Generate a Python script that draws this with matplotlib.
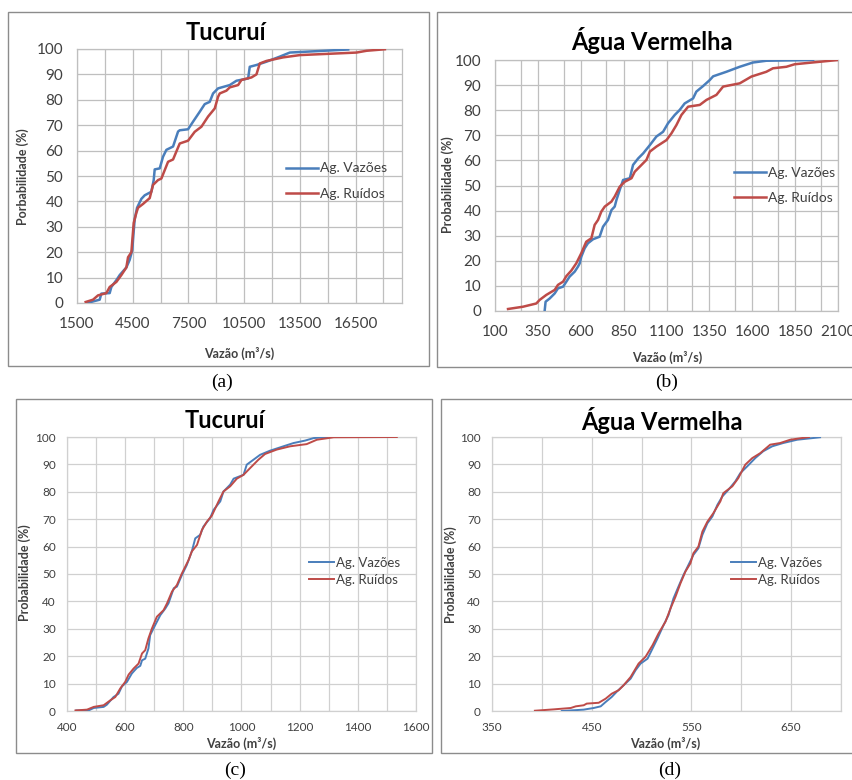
import matplotlib
matplotlib.use("Agg")
import matplotlib.pyplot as plt
from matplotlib.patches import Rectangle
from matplotlib.ticker import MultipleLocator, FixedLocator

# ---------------- data ----------------
a_vaz_x = [2039, 2721, 2811, 3260, 3350, 3620, 3800, 4158, 4338, 4480, 4517, 4607, 4733, 4966, 5146, 5505, 5630, 5684,
           5954, 6133, 6313, 6672, 6942, 7031, 7480, 7750, 8109, 8378, 8648, 8827, 9097, 9726, 10085, 10714, 10803,
           11163, 11702, 12420, 12959, 16103]
a_vaz_y = [0, 1.3, 3.7, 3.9, 6.3, 9, 11, 14, 17, 21, 25, 33, 37.5, 41, 42.4, 43.8, 48.4, 52.6,
           53, 57.6, 60.3, 61.6, 67.5, 68, 68.4, 71.4, 75.3, 78.3, 79.2, 82.5, 84.5, 85.8, 87.5, 88.4, 93,
           93.7, 95, 97, 98.6, 99.8]
a_rui_x = [1967, 2362, 2631, 3081, 3260, 3620, 3889, 4158, 4248, 4428, 4482, 4553, 4697, 4787, 5056, 5415, 5595, 5864,
           6044, 6223, 6403, 6672, 7031, 7480, 7839, 8199, 8558, 8917, 9097, 9186, 9546, 9726, 10175, 10354, 10893,
           11163, 11342, 11702, 12600, 13498, 16552, 17091, 18079]
a_rui_y = [0.4, 1.3, 3, 3.9, 6.3, 8.3, 11, 14, 18, 20, 25, 31.5, 35.5, 37.5, 39, 41.3, 46.5, 48.4,
           49, 52.3, 55.6, 56.5, 62.8, 63.9, 67.4, 69.4, 73.4, 76.6, 81.2, 82.5, 83.6, 84.9, 85.8, 87.8, 88.8,
           90, 94.3, 95.3, 96.7, 97.6, 98.6, 99.3, 99.9]

b_vaz_x = [390, 395, 419, 448, 467, 497, 516, 535, 565, 584, 594, 603, 623, 642, 672, 710, 730, 759, 779, 798, 808,
           827, 847, 886, 905, 935, 964, 1003, 1041, 1080, 1109, 1148, 1177, 1206, 1255, 1274, 1313, 1352, 1372,
           1449, 1527, 1604, 1682, 1955]
b_vaz_y = [0.4, 3.7, 5, 7, 9, 9.7, 11.7, 13.7, 15.7, 17.7, 19, 21.6, 25, 27, 28.6, 29.6, 33.6, 36.3, 40.2, 41.6, 44.2,
           48.2, 52.2, 52.9, 58.2, 60.8, 62.8, 66.1, 69.5, 71.4, 74.8, 78.1, 80.1, 82.7, 84.7, 87.4, 89.6, 92, 93.5,
           95.3, 97.3, 99, 99.7, 100]
b_rui_x = [176, 263, 341, 360, 399, 448, 467, 497, 516, 545, 574, 603, 632, 662, 681, 701, 720, 740, 779, 798, 827,
           857, 896, 915, 944, 983, 1003, 1041, 1100, 1129, 1158, 1187, 1226, 1294, 1333, 1391, 1430, 1527, 1595,
           1682, 1721, 1799, 1847, 1935, 2100]
b_rui_y = [0.8, 1.7, 3, 4.4, 6.4, 8.4, 10.4, 11.7, 13.9, 16.1, 19, 23, 27.6, 29, 34.3, 36.3, 39.6, 41.6, 43.6, 45.6,
           49.5, 51.5, 52.9, 55.5, 57.5, 60.2, 63.5, 65.5, 68.1, 70.8, 74.1, 78.1, 81.4, 82.1, 84.1, 86.1, 89.4,
           90.7, 93.4, 95.3, 96.7, 97.3, 98.3, 98.9, 100]

c_vaz_x = [432, 474, 492, 526, 537, 560, 577, 589, 606, 623, 640, 652, 658, 669, 680, 686, 703, 721, 738, 749, 767,
           778, 795, 812, 829, 841, 858, 869, 892, 904, 927, 938, 961, 973, 1007, 1018, 1041, 1064, 1098, 1144,
           1179, 1219, 1248, 1294]
c_vaz_y = [0.2, 0.2, 1.1, 1.5, 2.3, 5.1, 6.3, 9, 10.6, 13.7, 15.7, 16.5, 18.5, 19.1, 22.8, 27.7, 31.3, 35, 37.4, 39.3,
           44.8, 45.4, 49.6, 53.3, 58.2, 63, 64.3, 67.3, 70.4, 73.4, 76.5, 80.1, 82.6, 84.8, 86.2, 89.9, 91.7,
           93.5, 95, 96.6, 97.8, 98.7, 99.6, 100]
c_rui_x = [429, 469, 492, 526, 549, 566, 583, 600, 612, 629, 646, 658, 669, 680, 692, 709, 732, 744, 761, 778, 795,
           818, 829, 847, 864, 881, 898, 921, 938, 961, 984, 1007, 1030, 1058, 1081, 1121, 1167, 1224, 1259, 1317,
           1534]
c_rui_y = [0.2, 0.5, 1.5, 2.1, 3.9, 5.1, 8.2, 10.6, 13.3, 15.5, 17.3, 21, 22.2, 26.5, 30.1, 34.4, 36.8, 39.3, 43.6,
           46, 50.2, 55.1, 58.2, 60.6, 66.1, 69.1, 71.3, 76.5, 80.1, 82, 84.8, 86.2, 88.7, 91.7, 93.8, 95.4, 96.6,
           97.4, 99, 99.9, 100]

d_vaz_x = [420, 442, 452, 459, 464, 470, 475, 482, 489, 494, 499, 506, 511, 516, 522, 527, 532, 537, 542, 547, 552,
           557, 561, 566, 571, 576, 581, 587, 594, 599, 606, 614, 622, 631, 642, 656, 679]
d_vaz_y = [0, 0.5, 1.1, 1.7, 3.3, 5.1, 7, 9.4, 11.8, 14.9, 17.3, 19.1, 22.8, 26.5, 31.3, 35, 41.1, 45.4, 49.6, 53.3,
           57, 59.4, 64.3, 68.5, 71, 75.2, 78.3, 80.7, 83.8, 86.8, 89.3, 92.3, 94.8, 96.6, 97.8, 99, 99.9]
d_rui_x = [393, 412, 429, 434, 442, 445, 457, 464, 470, 477, 482, 489, 497, 504, 511, 517, 524, 529, 534, 539, 544,
           549, 552, 557, 561, 566, 572, 579, 582, 591, 597, 604, 611, 619, 629, 639, 649, 668]
d_rui_y = [0.1, 0.6, 1.1, 1.7, 2.1, 2.7, 3, 4.5, 6.3, 7.6, 9.4, 12.4, 17.3, 19.8, 24, 28.3, 32.6, 37.4, 41.7, 46.6,
           50.9, 53.9, 57.6, 60, 65.5, 69.1, 72.2, 76.5, 79.5, 82, 85, 89.9, 92.3, 94.1, 97.2, 97.8, 99, 100]

series_labels = ["Ag. Vazões", "Ag. Ruídos"]
titles = ["Tucuruí", "Água Vermelha", "Tucuruí", "Água Vermelha"]
ylabels = ["Porbabilidade (%)", "Probabilidade (%)", "Probabilidade (%)", "Probabilidade (%)"]
xlabel = "Vazão (m³/s)"
captions = ["(a)", "(b)", "(c)", "(d)"]
a_ticks = [1500, 4500, 7500, 10500, 13500, 16500]
b_ticks = [100, 350, 600, 850, 1100, 1350, 1600, 1850, 2100]
c_ticks = [400, 600, 800, 1000, 1200, 1400, 1600]
d_ticks = [350, 450, 550, 650]

# ---------------- layout ----------------
W, H = 852, 780
fig = plt.figure(figsize=(W / 100, H / 100), dpi=100)
SANS = ["Lato", "DejaVu Sans"]
BLUE = "#4A7EBB"
RED = "#BE4B48"
TXT = "#404040"


def fr(x0, y0, x1, y1):
    return [x0 / W, 1 - y1 / H, (x1 - x0) / W, (y1 - y0) / H]


def box(x0, y0, x1, y1):
    fig.patches.append(Rectangle((x0 / W, 1 - y1 / H), (x1 - x0) / W, (y1 - y0) / H,
                                 transform=fig.transFigure, fill=False, edgecolor="#8C8C8C", lw=1.0))


panels = [
    dict(pos=(77, 49, 402, 303), box=(8, 12, 429, 366), data=(a_vaz_x, a_vaz_y, a_rui_x, a_rui_y),
         xlim=(1500, 19000), major=FixedLocator(a_ticks), minor=MultipleLocator(1500),
         tfs=11, lw=1.8, grid="#BFBFBF", title_xy=(226, 32), tsz=17,
         ylab_xy=(23, 177), xlab_xy=(239, 353), lfs=9, cap_xy=(222, 382), leg=(0.605, 0.48), legfs=10,
         lspace=0.95, hl=2.3),
    dict(pos=(495, 60, 838, 311), box=(437, 12, 853, 367), data=(b_vaz_x, b_vaz_y, b_rui_x, b_rui_y),
         xlim=(100, 2100), major=FixedLocator(b_ticks), minor=MultipleLocator(250),
         tfs=11, lw=1.8, grid="#BFBFBF", title_xy=(652, 40), tsz=17,
         ylab_xy=(448, 185), xlab_xy=(667, 357), lfs=9, cap_xy=(667, 382), leg=(0.66, 0.5), legfs=10,
         lspace=0.95, hl=2.3),
    dict(pos=(67, 437, 416, 711), box=(16, 399, 432, 753), data=(c_vaz_x, c_vaz_y, c_rui_x, c_rui_y),
         xlim=(400, 1600), major=FixedLocator(c_ticks), minor=MultipleLocator(100),
         tfs=8.5, lw=1.4, grid="#D0D0D0", title_xy=(225, 420), tsz=17,
         ylab_xy=(25, 573), xlab_xy=(241, 743), lfs=9, cap_xy=(235, 770), leg=(0.66, 0.51), legfs=9.5,
         lspace=0.35, hl=1.9),
    dict(pos=(492, 437, 841, 711), box=(441, 399, 853, 753), data=(d_vaz_x, d_vaz_y, d_rui_x, d_rui_y),
         xlim=(350, 700), major=FixedLocator(d_ticks), minor=MultipleLocator(50),
         tfs=8.5, lw=1.4, grid="#D0D0D0", title_xy=(662, 420), tsz=17,
         ylab_xy=(451, 575), xlab_xy=(665, 743), lfs=9, cap_xy=(670, 770), leg=(0.65, 0.51), legfs=9.5,
         lspace=0.35, hl=1.9),
]

for i, p in enumerate(panels):
    box(*p["box"])
    ax = fig.add_axes(fr(*p["pos"]))
    vx, vy, rx, ry = p["data"]
    ax.plot(vx, vy, color=BLUE, lw=p["lw"], label=series_labels[0], zorder=3)
    ax.plot(rx, ry, color=RED, lw=p["lw"], label=series_labels[1], zorder=3)
    ax.set_xlim(*p["xlim"])
    ax.set_ylim(0, 100)
    ax.xaxis.set_major_locator(p["major"])
    ax.xaxis.set_minor_locator(p["minor"])
    ax.yaxis.set_major_locator(MultipleLocator(10))
    ax.grid(True, which="both", color=p["grid"], lw=0.9, zorder=0)
    ax.set_axisbelow(True)
    for s in ax.spines.values():
        s.set_color(p["grid"])
        s.set_linewidth(0.9)
    ax.tick_params(which="both", length=0, labelsize=p["tfs"], labelcolor=TXT, pad=10 if i < 2 else 8)
    for lab in ax.get_xticklabels() + ax.get_yticklabels():
        lab.set_family(SANS)
    leg = ax.legend(loc="center left", bbox_to_anchor=p["leg"], frameon=False, handlelength=p["hl"],
                    handletextpad=0.15, labelspacing=p["lspace"], prop={"family": SANS, "size": p["legfs"]})
    for t in leg.get_texts():
        t.set_color(TXT)

    fig.text(p["title_xy"][0] / W, 1 - p["title_xy"][1] / H, titles[i], ha="center", va="center",
             fontsize=p["tsz"], fontweight="bold", family=SANS, color="black")
    fig.text(p["ylab_xy"][0] / W, 1 - p["ylab_xy"][1] / H, ylabels[i], ha="center", va="center",
             rotation=90, fontsize=p["lfs"], fontweight="bold", family=SANS, color=TXT)
    fig.text(p["xlab_xy"][0] / W, 1 - p["xlab_xy"][1] / H, xlabel, ha="center", va="center",
             fontsize=p["lfs"], fontweight="bold", family=SANS, color=TXT)
    fig.text(p["cap_xy"][0] / W, 1 - p["cap_xy"][1] / H, captions[i], ha="center", va="center",
             fontsize=14, family=["Liberation Serif", "DejaVu Serif"], color="black")

fig.savefig("out.png", dpi=100)
